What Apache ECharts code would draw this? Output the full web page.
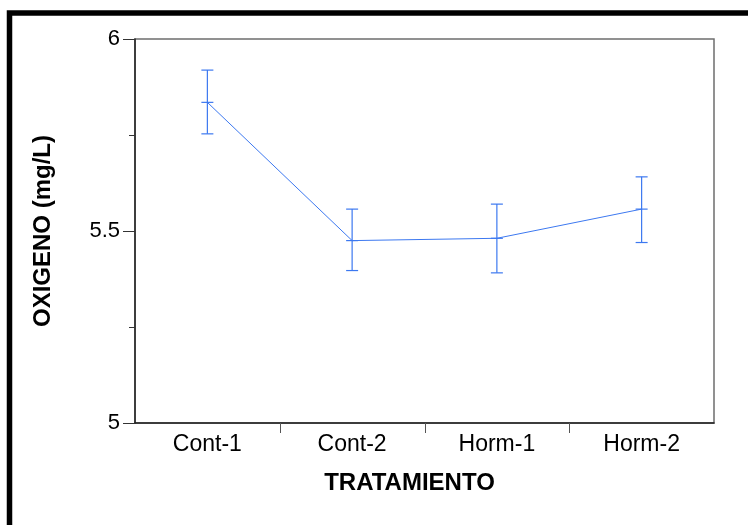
<!DOCTYPE html>
<html>
<head>
<meta charset="utf-8">
<script src="https://cdn.jsdelivr.net/npm/echarts@6/dist/echarts.min.js"></script>
<style>
  html, body { margin: 0; padding: 0; background: #fff; }
  #chart { width: 748px; height: 525px; }
</style>
</head>
<body>
<div id="chart"></div>
<script>
// values
var categories = ["Cont-1", "Cont-2", "Horm-1", "Horm-2"];
var means = [5.835, 5.475, 5.481, 5.557];
var upper = [5.919, 5.557, 5.570, 5.641];
var lower = [5.753, 5.397, 5.391, 5.470];
var yLabels = [5, 5.5, 6];

var blue = "#3c78f0";
var font = "Liberation Sans, Arial, sans-serif";

var errData = categories.map(function (c, i) {
  return [i, lower[i], upper[i], means[i]];
});

var chart = echarts.init(document.getElementById("chart"));

var option = {
  animation: false,
  textStyle: { fontFamily: font, color: "#000" },
  grid: {
    left: 135,
    top: 39,
    right: 34,
    bottom: 102,
    show: true,
    borderColor: "#6e6e6e",
    borderWidth: 1.5
  },
  graphic: [
    {
      type: "rect",
      shape: { x: 9.5, y: 13, width: 900, height: 700 },
      style: { fill: null, stroke: "#000", lineWidth: 5.5 },
      silent: true
    }
  ],
  xAxis: {
    type: "category",
    data: categories,
    boundaryGap: true,
    name: "TRATAMIENTO",
    nameLocation: "middle",
    nameGap: 48,
    nameTextStyle: {
      fontSize: 24,
      fontWeight: "bold",
      color: "#000",
      padding: [0, 30, 0, 0]
    },
    axisLine: { lineStyle: { color: "#222", width: 1.5 } },
    axisTick: { show: false },
    axisLabel: { fontSize: 23, color: "#000", margin: 10 },
    splitLine: { show: false }
  },
  yAxis: {
    type: "value",
    min: 5,
    max: 6,
    interval: 0.5,
    name: "OXIGENO (mg/L)",
    nameLocation: "middle",
    nameGap: 80,
    nameTextStyle: { fontSize: 24, fontWeight: "bold", color: "#000" },
    axisLine: { show: true, lineStyle: { color: "#222", width: 1.5 } },
    axisTick: { show: true, length: 12, lineStyle: { color: "#333" } },
    minorTick: { show: true, splitNumber: 2, length: 6, lineStyle: { color: "#333" } },
    axisLabel: {
      fontSize: 22,
      color: "#000",
      margin: 15,
      formatter: function (v) {
        return yLabels.indexOf(v) >= 0 ? String(v) : "";
      }
    },
    splitLine: { show: false }
  },
  series: [
    {
      // category boundary ticks below the x axis (only the inner ones)
      type: "custom",
      data: categories.slice(1).map(function (c, i) { return [i, i + 1]; }),
      silent: true,
      renderItem: function (params, api) {
        var a = api.coord([api.value(0), 5]);
        var b = api.coord([api.value(1), 5]);
        var x = Math.round((a[0] + b[0]) / 2) + 0.5;
        return {
          type: "line",
          shape: { x1: x, y1: a[1], x2: x, y2: a[1] + 10 },
          style: { stroke: "#555", lineWidth: 1 }
        };
      },
      clip: false
    },
    {
      type: "line",
      data: means,
      symbol: "none",
      lineStyle: { color: blue, width: 1 }
    },
    {
      type: "custom",
      data: errData,
      renderItem: function (params, api) {
        var lo = api.coord([api.value(0), api.value(1)]);
        var hi = api.coord([api.value(0), api.value(2)]);
        var mid = api.coord([api.value(0), api.value(3)]);
        var x = lo[0];
        var w = 6;
        var st = { stroke: blue, lineWidth: 1.2 };
        return {
          type: "group",
          children: [
            { type: "line", shape: { x1: x, y1: lo[1], x2: x, y2: hi[1] }, style: st },
            { type: "line", shape: { x1: x - w, y1: lo[1], x2: x + w, y2: lo[1] }, style: st },
            { type: "line", shape: { x1: x - w, y1: hi[1], x2: x + w, y2: hi[1] }, style: st },
            { type: "line", shape: { x1: x - w, y1: mid[1], x2: x + w, y2: mid[1] }, style: st }
          ]
        };
      }
    }
  ]
};

chart.setOption(option);
</script>
</body>
</html>
